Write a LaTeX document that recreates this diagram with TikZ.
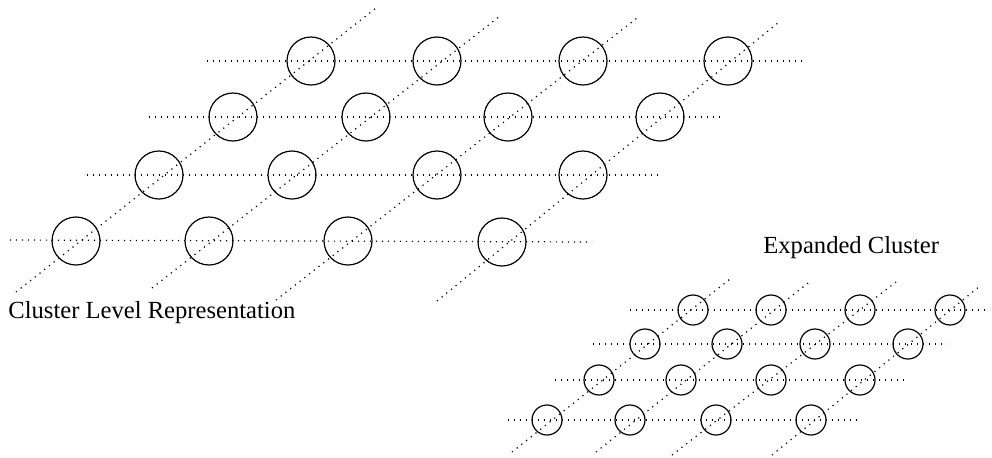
\documentclass[tikz,border=0pt]{standalone}
\usepackage{fontspec}
\setmainfont{Liberation Serif}
\begin{document}
\begin{tikzpicture}[x=0.5pt,y=-0.5pt]
    % Define clean styles
    \tikzset{
        cluster/.style={
            draw,
            circle,
            line width=0.6pt,
            minimum size=24pt,
            inner sep=0pt
        },
        member/.style={
            draw,
            circle,
            line width=0.6pt,
            minimum size=15pt,
            inner sep=0pt
        },
        gridline/.style={
            line width=0.6pt,
            dash pattern=on 0.6pt off 2.4pt
        },
        caption/.style={
            anchor=base west,
            inner sep=0pt,
            font=\fontsize{12.3}{14}\selectfont
        }
    }
    \useasboundingbox (0,0) rectangle (992,457);

    % Cluster level circles (row by row, top first)
    \node[cluster] (c11) at (311,61) {};
    \node[cluster] (c12) at (437,61) {};
    \node[cluster] (c13) at (583,61) {};
    \node[cluster] (c14) at (728,61) {};
    \node[cluster] (c21) at (233,117) {};
    \node[cluster] (c22) at (366,117) {};
    \node[cluster] (c23) at (508,117) {};
    \node[cluster] (c24) at (660,117) {};
    \node[cluster] (c31) at (159,175) {};
    \node[cluster] (c32) at (292,175) {};
    \node[cluster] (c33) at (437,175) {};
    \node[cluster] (c34) at (583,175) {};
    \node[cluster] (c41) at (76,241) {};
    \node[cluster] (c42) at (209,241) {};
    \node[cluster] (c43) at (348,241) {};
    \node[cluster] (c44) at (502,242) {};

    % Expanded cluster circles
    \node[member] (e11) at (693,310) {};
    \node[member] (e12) at (771,310) {};
    \node[member] (e13) at (860,310) {};
    \node[member] (e14) at (950,310) {};
    \node[member] (e21) at (645,344) {};
    \node[member] (e22) at (727,344) {};
    \node[member] (e23) at (815,344) {};
    \node[member] (e24) at (908,344) {};
    \node[member] (e31) at (599,380) {};
    \node[member] (e32) at (681,380) {};
    \node[member] (e33) at (771,380) {};
    \node[member] (e34) at (860,380) {};
    \node[member] (e41) at (547,420) {};
    \node[member] (e42) at (630,420) {};
    \node[member] (e43) at (716,420) {};
    \node[member] (e44) at (811,420) {};

    % Free ends of the cluster grid lines
    \coordinate (ch1w) at (207,61);  \coordinate (ch1e) at (806,61);
    \coordinate (ch2w) at (149,117); \coordinate (ch2e) at (723,117);
    \coordinate (ch3w) at (87,175);  \coordinate (ch3e) at (660,175);
    \coordinate (ch4w) at (10,240);  \coordinate (ch4e) at (592,242);
    \coordinate (cd1s) at (16,292);  \coordinate (cd1n) at (376,8);
    \coordinate (cd2s) at (152,288); \coordinate (cd2n) at (500,16);
    \coordinate (cd3s) at (276,300); \coordinate (cd3n) at (637,18);
    \coordinate (cd4s) at (437,301); \coordinate (cd4n) at (779,22);

    % Free ends of the expanded grid lines
    \coordinate (eh1w) at (630,310); \coordinate (eh1e) at (990,310);
    \coordinate (eh2w) at (593,344); \coordinate (eh2e) at (947,344);
    \coordinate (eh3w) at (555,380); \coordinate (eh3e) at (908,380);
    \coordinate (eh4w) at (508,420); \coordinate (eh4e) at (860,420);
    \coordinate (ed1s) at (512,452); \coordinate (ed1n) at (730,279);
    \coordinate (ed2s) at (596,452); \coordinate (ed2n) at (808,283);
    \coordinate (ed3s) at (672,455); \coordinate (ed3n) at (896,282);
    \coordinate (ed4s) at (772,455); \coordinate (ed4n) at (980,286);

    % Cluster grid lines
    \draw[gridline] (ch1w) -- (ch1e);
    \draw[gridline] (ch2w) -- (ch2e);
    \draw[gridline] (ch3w) -- (ch3e);
    \draw[gridline] (ch4w) -- (ch4e);
    \draw[gridline] (cd1s) -- (cd1n);
    \draw[gridline] (cd2s) -- (cd2n);
    \draw[gridline] (cd3s) -- (cd3n);
    \draw[gridline] (cd4s) -- (cd4n);

    % Expanded grid lines
    \draw[gridline] (eh1w) -- (eh1e);
    \draw[gridline] (eh2w) -- (eh2e);
    \draw[gridline] (eh3w) -- (eh3e);
    \draw[gridline] (eh4w) -- (eh4e);
    \draw[gridline] (ed1s) -- (ed1n);
    \draw[gridline] (ed2s) -- (ed2n);
    \draw[gridline] (ed3s) -- (ed3n);
    \draw[gridline] (ed4s) -- (ed4n);

    % Captions
    \node[caption] (levelcap) at (8,318) {Cluster Level Representation};
    \node[caption] (expandcap) at (763,253) {Expanded Cluster};

\end{tikzpicture}
\end{document}
